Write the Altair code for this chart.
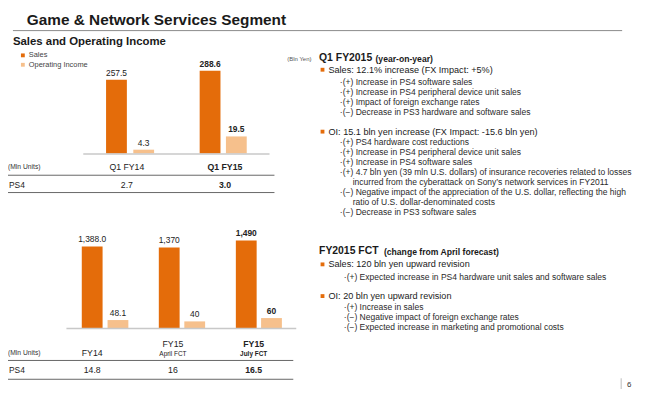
import altair as alt
import pandas as pd

FONT = "Liberation Sans"
ORANGE = "#E46C0A"
PEACH = "#F6C08C"
INK = "#1a1a1a"
OX, OY = 8, 8

# ---------------- data ----------------
top_cats = ["Q1 FY14", "Q1 FY15"]
top_sales = [257.5, 288.6]
top_sales_lbl = ["257.5", "288.6"]
top_oi = [4.3, 19.5]
top_oi_lbl = ["4.3", "19.5"]
top_ps4 = ["2.7", "3.0"]
top_bold = [False, True]

bot_cats = ["FY14", "FY15 April FCT", "FY15 July FCT"]
bot_main = ["FY14", "FY15", "FY15"]
bot_sub = ["", "April FCT", "July FCT"]
bot_sales = [1388.0, 1370, 1490]
bot_sales_lbl = ["1,388.0", "1,370", "1,490"]
bot_oi = [48.1, 40, 60]
bot_oi_lbl = ["48.1", "40", "60"]
bot_ps4 = ["14.8", "16", "16.5"]
bot_bold = [False, False, True]

title = "Game & Network Services Segment"
subtitle = "Sales and Operating Income"
legend_items = ["Sales", "Operating Income"]
units_label = "(Mln Units)"
row_label = "PS4"
yen_label = "(Bln Yen)"

q1_head = "Q1 FY2015"
q1_head_sub = "(year-on-year)"
q1_sales = "Sales: 12.1% increase (FX Impact:  +5%)"
q1_sales_items = [
    "·(+) Increase in PS4 software sales",
    "·(+) Increase in PS4 peripheral device unit sales",
    "·(+) Impact of foreign exchange rates",
    "·(−) Decrease in PS3 hardware and software sales",
]
q1_oi = "OI:  15.1 bln yen increase (FX Impact:  -15.6 bln yen)"
q1_oi_items = [
    "·(+) PS4 hardware cost reductions",
    "·(+) Increase in PS4 peripheral device unit sales",
    "·(+) Increase in PS4 software sales",
    "·(+) 4.7 bln yen (39 mln U.S. dollars) of insurance recoveries related to losses",
    "incurred from the cyberattack on Sony’s network services in FY2011",
    "·(−) Negative impact of the appreciation of the U.S. dollar, reflecting the high",
    "ratio of U.S. dollar-denominated costs",
    "·(−) Decrease in PS3 software sales",
]
fct_head = "FY2015 FCT"
fct_head_sub = "(change from April forecast)"
fct_sales = "Sales: 120 bln yen upward revision"
fct_sales_items = ["·(+) Expected increase in PS4 hardware unit sales and software sales"]
fct_oi = "OI: 20 bln yen upward revision"
fct_oi_items = [
    "·(+) Increase in sales",
    "·(−) Negative impact of foreign exchange rates",
    "·(−) Expected increase in marketing and promotional costs",
]
page_no = "6"


def px(x):
    return x - OX


def py(y):
    return y - OY


def band(cats, xr):
    return alt.Scale(domain=cats, range=[px(xr[0]), px(xr[1])], paddingInner=0, paddingOuter=0)


def bar_group(cats, vals, lbls, bold, xr, ydom, yr, color, lsize):
    df = pd.DataFrame({"cat": cats, "v": vals, "lbl": lbls, "bold": bold})
    base = alt.Chart(df).encode(
        x=alt.X("cat:N", sort=cats, scale=band(cats, xr), axis=None),
        y=alt.Y("v:Q", scale=alt.Scale(domain=ydom, range=[py(yr[0]), py(yr[1])], nice=False, zero=True), axis=None),
    )
    out = [base.mark_bar(size=21, color=color)]
    for b in (False, True):
        out.append(
            base.transform_filter(("" if b else "!") + "datum.bold")
            .mark_text(font=FONT, fontSize=lsize, fontWeight="bold" if b else "normal",
                       baseline="alphabetic", dy=-4, color="#222")
            .encode(text="lbl:N")
        )
    return out


def cat_text(cats, texts, bold, xr, y, size, keep=None):
    df = pd.DataFrame({"cat": cats, "t": texts, "bold": bold,
                       "keep": keep if keep is not None else [True] * len(cats)})
    out = []
    for b in (False, True):
        out.append(
            alt.Chart(df).transform_filter("datum.keep").transform_filter(("" if b else "!") + "datum.bold")
            .mark_text(font=FONT, fontSize=size, fontWeight="bold" if b else "normal",
                       baseline="middle", color="#222")
            .encode(x=alt.X("cat:N", sort=cats, scale=band(cats, xr), axis=None),
                    y=alt.value(py(y)), text="t:N")
        )
    return out


layers = []

# ---- top chart ----
layers += bar_group(top_cats, top_sales, top_sales_lbl, top_bold, (70.25, 259.25), (0, 300), (153, 66.3), ORANGE, 8.5)
layers += bar_group(top_cats, top_oi, top_oi_lbl, top_bold, (98.25, 285.25), (0, 20), (153, 135.4), PEACH, 8.5)
layers += cat_text(top_cats, top_cats, top_bold, (78.5, 276.5), 167, 8.8)
layers += cat_text(top_cats, top_ps4, top_bold, (78.5, 276.5), 185, 8.8)

# ---- bottom chart ----
layers += bar_group(bot_cats, bot_sales, bot_sales_lbl, bot_bold, (54.1, 287.4), (0, 1500), (329.3, 240.2), ORANGE, 8.5)
layers += bar_group(bot_cats, bot_oi, bot_oi_lbl, bot_bold, (80.25, 312.75), (0, 60), (329.3, 319.2), PEACH, 8.5)
bxr = (52.25, 296.75)
one_line = [s == "" for s in bot_sub]
two_line = [not o for o in one_line]
layers += cat_text(bot_cats, bot_main, bot_bold, bxr, 354, 8.8, keep=one_line)
layers += cat_text(bot_cats, bot_main, bot_bold, bxr, 345.6, 8.8, keep=two_line)
layers += cat_text(bot_cats, bot_sub, bot_bold, bxr, 355.5, 6.5, keep=two_line)
layers += cat_text(bot_cats, bot_ps4, bot_bold, bxr, 372, 8.8)

# ---- lines ----
rules = pd.DataFrame([
    dict(x=13, x2=628, y=29, y2=29, c="#8a8a8a", w=1),
    dict(x=8, x2=277, y=175, y2=175, c="#666666", w=1),
    dict(x=8, x2=277, y=192.5, y2=192.5, c="#666666", w=1),
    dict(x=8, x2=296, y=362, y2=362, c="#666666", w=1),
    dict(x=8, x2=296, y=381, y2=381, c="#666666", w=1),
    dict(x=84, x2=272, y=153.5, y2=153.5, c="#c8c8c8", w=1.5),
    dict(x=67, x2=299, y=329.8, y2=329.8, c="#c8c8c8", w=1.5),
    dict(x=627, x2=627, y=380, y2=394, c="#bbbbbb", w=1),
])
for col in ("x", "x2"):
    rules[col] = rules[col] - OX
for col in ("y", "y2"):
    rules[col] = rules[col] - OY
layers.append(
    alt.Chart(rules).mark_rule().encode(
        x=alt.X("x:Q", scale=None, axis=None), x2="x2:Q",
        y=alt.Y("y:Q", scale=None, axis=None), y2="y2:Q",
        color=alt.Color("c:N", scale=None, legend=None),
        strokeWidth=alt.StrokeWidth("w:Q", scale=None, legend=None),
    )
)

# ---- squares (legend + bullets) ----
sq = pd.DataFrame([
    dict(x=23, y=54, c=ORANGE), dict(x=23, y=63.5, c=PEACH),
    dict(x=325.5, y=68.5, c=ORANGE), dict(x=325.5, y=131, c=ORANGE),
    dict(x=325.5, y=265, c=ORANGE), dict(x=325.5, y=297, c=ORANGE),
])
sq["x"] = sq["x"] - OX
sq["y"] = sq["y"] - OY
layers.append(
    alt.Chart(sq).mark_square(size=15, opacity=1).encode(
        x=alt.X("x:Q", scale=None, axis=None), y=alt.Y("y:Q", scale=None, axis=None),
        color=alt.Color("c:N", scale=None, legend=None),
    )
)

# ---- text annotations ----
rows = []


def T(text, x, y, size, weight="normal", color=INK):
    rows.append(dict(t=text, x=x - OX, y=y - OY, s=size, wt=weight, c=color))


T(title, 27, 18.5, 15.5, "bold")
T(subtitle, 13, 41, 11.5, "bold")
for i, lg in enumerate(legend_items):
    T(lg, 29, 54 + i * 9.5, 7.5, color="#444444")
T(units_label, 8, 167, 6.8, color="#333333")
T(row_label, 9, 185, 8.5)
T(units_label, 8, 354, 6.8, color="#333333")
T(row_label, 9, 372, 8.5)
T(yen_label, 290, 57.5, 6, color="#555555")

T(q1_head, 322, 57, 10.5, "bold")
T(q1_head_sub, 379, 57.5, 8.7, "bold")
T(q1_sales, 331.5, 68.5, 9.2)
for i, s in enumerate(q1_sales_items):
    T(s, 343, 80.5 + i * 10.3, 8.6, color="#2a2a2a")
T(q1_oi, 331.5, 131, 9.2)
for i, s in enumerate(q1_oi_items):
    T(s, 343 if s.startswith("·") else 356, 141.7 + i * 10, 8.6, color="#2a2a2a")

T(fct_head, 322, 252, 10.5, "bold")
T(fct_head_sub, 387.5, 252.5, 8.7, "bold")
T(fct_sales, 331.5, 265, 9.2)
for i, s in enumerate(fct_sales_items):
    T(s, 347, 278 + i * 9.9, 8.6, color="#2a2a2a")
T(fct_oi, 331.5, 297, 9.2)
for i, s in enumerate(fct_oi_items):
    T(s, 347, 308 + i * 9.9, 8.6, color="#2a2a2a")
T(page_no, 633, 387, 8, color="#333333")

tdf = pd.DataFrame(rows)
for wt in ("normal", "bold"):
    sub = tdf[tdf.wt == wt]
    if len(sub) == 0:
        continue
    layers.append(
        alt.Chart(sub).mark_text(font=FONT, fontWeight=wt, align="left", baseline="middle").encode(
            x=alt.X("x:Q", scale=None, axis=None), y=alt.Y("y:Q", scale=None, axis=None),
            text="t:N", size=alt.Size("s:Q", scale=None, legend=None),
            color=alt.Color("c:N", scale=None, legend=None),
        )
    )

chart = (
    alt.layer(*layers)
    .resolve_scale(x="independent", y="independent")
    .properties(width=636, height=381, padding=0, autosize=alt.AutoSizeParams(type="none"), background="white")
    .configure_view(stroke=None)
)

chart.save("out.html", embed_options={"renderer": "svg", "actions": False})
